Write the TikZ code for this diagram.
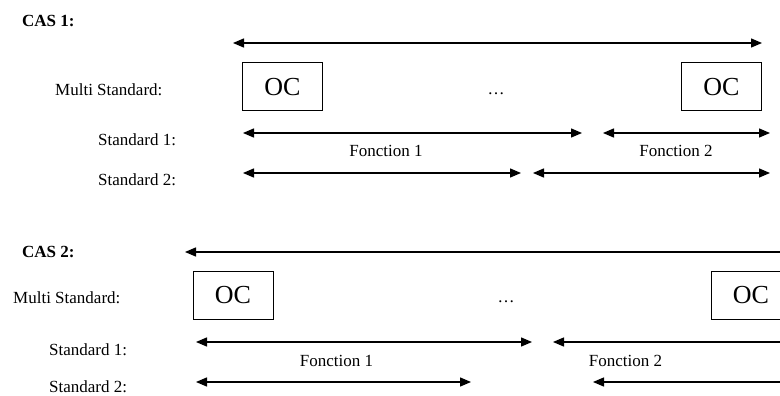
\documentclass[tikz,border=0pt]{standalone}
\usepackage{fontspec}
\setmainfont{Liberation Serif}
\usetikzlibrary{arrows.meta}

\begin{document}
\begin{tikzpicture}[
    x=1pt, y=-1pt,
    txt/.style = {font=\fontsize{17}{20}\selectfont, inner sep=0pt},
    cas/.style = {txt, font=\fontsize{17}{20}\selectfont\bfseries, anchor=west},
    oc/.style = {draw, line width=1pt, minimum width=80pt, minimum height=48pt, font=\fontsize{26}{30}\selectfont},
    fleche/.style = {line width=1.3pt, {Triangle[length=11pt,width=9pt]}-{Triangle[length=11pt,width=9pt]}},
    flecheg/.style = {line width=1.3pt, {Triangle[length=11pt,width=9pt]}-}
]
    \clip (0,0) rectangle (780,396);

    % --- CAS 1 ---
    \node[cas] (cas1) at (22,21) {CAS 1:};
    \node[txt, anchor=west] (ms1) at (55,90) {Multi Standard:};
    \node[txt, anchor=west] (s11) at (98,140) {Standard 1:};
    \node[txt, anchor=west] (s12) at (98,180) {Standard 2:};

    \node[oc] (oc11) at (282.5,87) {OC};
    \node[oc] (oc12) at (721.5,87) {OC};
    \node[txt] (pts1) at (496,94) {\textellipsis};

    \coordinate (h1a) at (233,43);
    \coordinate (h1b) at (762,43);
    \draw[fleche] (h1a) -- (h1b);

    \coordinate (f11a) at (243,133);
    \coordinate (f11b) at (582,133);
    \coordinate (f12a) at (603,133);
    \coordinate (f12b) at (770,133);
    \draw[fleche] (f11a) -- (f11b);
    \draw[fleche] (f12a) -- (f12b);
    \node[txt] (fn11) at (386,151) {Fonction 1};
    \node[txt] (fn12) at (676,151) {Fonction 2};

    \coordinate (g11a) at (243,173);
    \coordinate (g11b) at (521,173);
    \coordinate (g12a) at (533,173);
    \coordinate (g12b) at (770,173);
    \draw[fleche] (g11a) -- (g11b);
    \draw[fleche] (g12a) -- (g12b);

    % --- CAS 2 ---
    \node[cas] (cas2) at (22,251.5) {CAS 2:};
    \node[txt, anchor=west] (ms2) at (13,298) {Multi Standard:};
    \node[txt, anchor=west] (s21) at (49,350) {Standard 1:};
    \node[txt, anchor=west] (s22) at (49,386.5) {Standard 2:};

    \node[oc] (oc21) at (233,295.5) {OC};
    \node[oc] (oc22) at (751,295.5) {OC};
    \node[txt] (pts2) at (506,302) {\textellipsis};

    \coordinate (h2a) at (185,252);
    \coordinate (h2b) at (782,252);
    \draw[flecheg] (h2a) -- (h2b);

    \coordinate (f21a) at (196,342);
    \coordinate (f21b) at (532,342);
    \coordinate (f22a) at (553,342);
    \coordinate (f22b) at (782,342);
    \draw[fleche] (f21a) -- (f21b);
    \draw[flecheg] (f22a) -- (f22b);
    \node[txt] (fn21) at (336.5,361) {Fonction 1};
    \node[txt] (fn22) at (625.5,361) {Fonction 2};

    \coordinate (g21a) at (196,382);
    \coordinate (g21b) at (471,382);
    \coordinate (g22a) at (593,382);
    \coordinate (g22b) at (782,382);
    \draw[fleche] (g21a) -- (g21b);
    \draw[flecheg] (g22a) -- (g22b);
\end{tikzpicture}
\end{document}
